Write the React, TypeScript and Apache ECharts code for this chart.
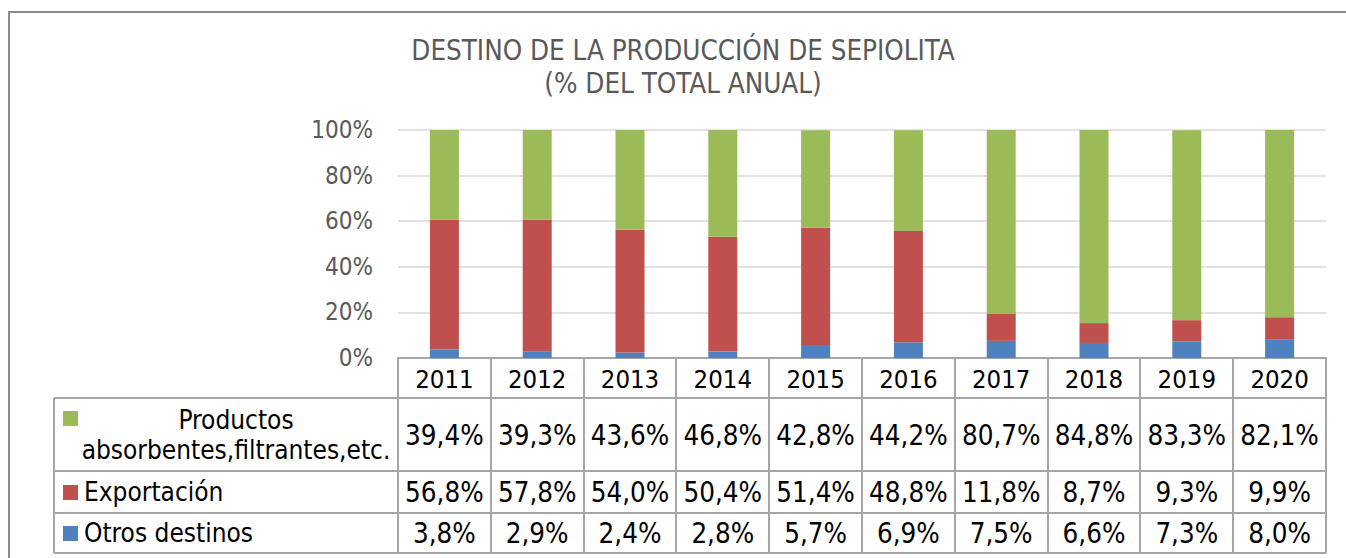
import React, { useEffect, useRef } from "react";
import * as echarts from "echarts";

const years = ["2011", "2012", "2013", "2014", "2015", "2016", "2017", "2018", "2019", "2020"];
const productos = [39.4, 39.3, 43.6, 46.8, 42.8, 44.2, 80.7, 84.8, 83.3, 82.1];
const exportacion = [56.8, 57.8, 54.0, 50.4, 51.4, 48.8, 11.8, 8.7, 9.3, 9.9];
const otros = [3.8, 2.9, 2.4, 2.8, 5.7, 6.9, 7.5, 6.6, 7.3, 8.0];
const seriesNames = ["Productos absorbentes,filtrantes,etc.", "Exportación", "Otros destinos"];
const legendLabels = ["Productos\nabsorbentes,filtrantes,etc.", "Exportación", "Otros destinos"];
const titleText = "DESTINO DE LA PRODUCCIÓN DE SEPIOLITA\n(% DEL TOTAL ANUAL)";

const GREEN = "#9BBB59";
const RED = "#C0504D";
const BLUE = "#4F81BD";
const FONT = "'DejaVu Sans Condensed', 'DejaVu Sans', sans-serif";

const GRID_L = 398;
const GRID_R = 1326;
const GRID_T = 130;
const GRID_B = 358;
const TABLE_L = 54;
const ROW_LINES = [398, 471, 513, 553];
const LINE_COLOR = "#a6a6a6";

const fmt = (v: number) => v.toFixed(1).replace(".", ",") + "%";

export default function App() {
  const ref = useRef<HTMLDivElement>(null);
  useEffect(() => {
    if (!ref.current) return;
    const chart = echarts.init(ref.current, undefined, { renderer: "svg" });
    const n = years.length;
    const colW = (GRID_R - GRID_L) / n;
    const graphics: any[] = [];
    // frame
    graphics.push({
      type: "rect",
      shape: { x: 9, y: 12, width: 1400, height: 600 },
      style: { fill: "none", stroke: "#8c8c8c", lineWidth: 2 },
      silent: true,
    });
    // horizontal table lines
    ROW_LINES.forEach((y) => {
      graphics.push({
        type: "line",
        shape: { x1: TABLE_L, y1: y, x2: GRID_R, y2: y },
        style: { stroke: LINE_COLOR, lineWidth: 2 },
      });
    });
    // vertical lines
    graphics.push({
      type: "line",
      shape: { x1: TABLE_L, y1: ROW_LINES[0], x2: TABLE_L, y2: ROW_LINES[3] },
      style: { stroke: LINE_COLOR, lineWidth: 2 },
    });
    for (let i = 0; i <= n; i++) {
      const x = Math.round(GRID_L + i * colW);
      graphics.push({
        type: "line",
        shape: { x1: x, y1: GRID_B, x2: x, y2: ROW_LINES[3] },
        style: { stroke: LINE_COLOR, lineWidth: 2 },
      });
    }
    // values
    const rows = [productos, exportacion, otros];
    const rowCenters = [435, 492, 533];
    rows.forEach((arr, r) => {
      arr.forEach((v, i) => {
        graphics.push({
          type: "text",
          x: GRID_L + (i + 0.5) * colW,
          y: rowCenters[r],
          style: {
            text: fmt(v),
            fontSize: 27.5,
            fontFamily: FONT,
            fill: "#000",
            align: "center",
            verticalAlign: "middle",
          },
        });
      });
    });
    // legend keys
    const keyColors = [GREEN, RED, BLUE];
    const keyY = [411, 485, 526];
    keyColors.forEach((c, r) => {
      graphics.push({
        type: "rect",
        shape: { x: 63, y: keyY[r], width: 15, height: 15 },
        style: { fill: c },
      });
    });
    graphics.push({
      type: "text",
      x: 236,
      y: 435,
      style: {
        text: legendLabels[0],
        fontSize: 26,
        lineHeight: 30,
        fontFamily: FONT,
        fill: "#000",
        align: "center",
        verticalAlign: "middle",
      },
    });
    [1, 2].forEach((r) => {
      graphics.push({
        type: "text",
        x: 84,
        y: rowCenters[r],
        style: {
          text: legendLabels[r],
          fontSize: 26,
          fontFamily: FONT,
          fill: "#000",
          align: "left",
          verticalAlign: "middle",
        },
      });
    });

    chart.setOption({
      animation: false,
      backgroundColor: "#fff",
      title: {
        text: titleText,
        left: 678,
        top: 28,
        textAlign: "center",
        textStyle: {
          fontSize: 27.5,
          lineHeight: 33,
          fontWeight: "normal",
          color: "#595959",
          fontFamily: FONT,
        },
      },
      grid: {
        left: GRID_L,
        right: 1346 - GRID_R,
        top: GRID_T,
        bottom: 558 - GRID_B,
        containLabel: false,
      },
      xAxis: {
        type: "category",
        data: years,
        axisLine: { show: true, lineStyle: { color: LINE_COLOR, width: 2 } },
        axisTick: { show: false },
        axisLabel: {
          margin: 21,
          verticalAlign: "middle",
          fontSize: 25.5,
          color: "#000",
          fontFamily: FONT,
          interval: 0,
        },
      },
      yAxis: {
        type: "value",
        min: 0,
        max: 100,
        interval: 20,
        axisLine: { show: false },
        axisTick: { show: false },
        splitLine: { lineStyle: { color: "#d9d9d9", width: 1.5 } },
        axisLabel: {
          formatter: "{value}%",
          margin: 25,
          fontSize: 24,
          color: "#595959",
          fontFamily: FONT,
        },
      },
      series: [
        { name: seriesNames[2], type: "bar", stack: "t", data: otros, barWidth: 29, itemStyle: { color: BLUE } },
        { name: seriesNames[1], type: "bar", stack: "t", data: exportacion, barWidth: 29, itemStyle: { color: RED } },
        { name: seriesNames[0], type: "bar", stack: "t", data: productos, barWidth: 29, itemStyle: { color: GREEN } },
      ],
      graphic: graphics,
    });
    return () => chart.dispose();
  }, []);
  return (
    <div
      ref={ref}
      style={{ position: "fixed", left: 0, top: 0, width: 1346, height: 558 }}
    />
  );
}
